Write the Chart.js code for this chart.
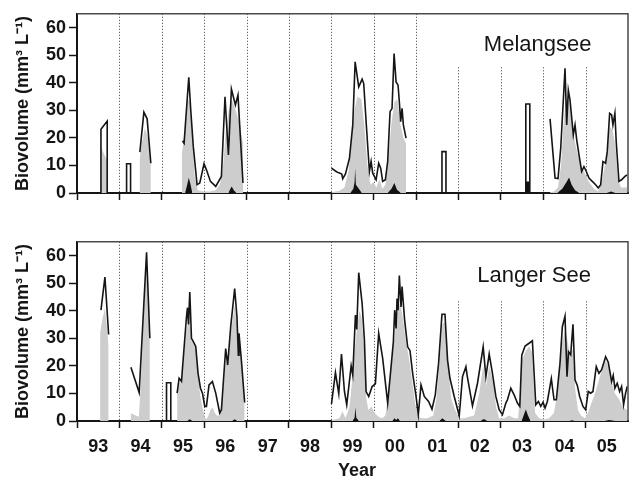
<!DOCTYPE html>
<html><head><meta charset="utf-8">
<script src="https://cdn.jsdelivr.net/npm/chart.js@4.4.0/dist/chart.umd.min.js"></script>
<style>
html,body{margin:0;padding:0;background:#fff;}
#wrap{position:relative;width:629px;height:478px;overflow:hidden;}
.p{position:absolute;left:0;width:629px;}
#p1{top:0;height:215px;}
#p2{top:228px;height:250px;}
</style></head><body>
<div id="wrap"><div class="p" id="p1"><canvas id="c1"></canvas></div><div class="p" id="p2"><canvas id="c2"></canvas></div></div>
<script>
// ---------- DATA (decimal year, biovolume mm3/L); null = sampling gap ----------
const yearLabels = ['93','94','95','96','97','98','99','00','01','02','03','04','05'];
const yearStarts = [1993,1994,1995,1996,1997,1998,1999,2000,2001,2002,2003,2004,2005];
const yTickValues = [0,10,20,30,40,50,60];

const melTotal = [
 [1993.565,0],[1993.565,23.1],[1993.713,26.1],[1993.713,0],null,
 [1994.170,0],[1994.170,10.6],[1994.264,10.6],[1994.264,0],null,
 [1994.483,14.8],[1994.578,29.3],[1994.655,26.9],[1994.742,10.8],null,
 [1995.489,18.9],[1995.526,18.0],[1995.637,42.0],[1995.684,30],[1995.743,17],[1995.833,3.0],[1995.896,3.6],[1995.997,10.6],[1996.054,8.4],[1996.148,4.2],[1996.273,2.4],[1996.407,6.0],[1996.492,34.9],[1996.572,13.8],[1996.643,37.7],[1996.737,31.9],[1996.798,35.5],[1996.916,3.6],null,
 [1999.004,9.0],[1999.115,7.8],[1999.176,7.3],[1999.247,6.9],[1999.270,5.2],[1999.334,6.9],[1999.428,12.6],[1999.506,24.7],[1999.562,47.6],[1999.647,38.5],[1999.727,41.3],[1999.765,39.7],[1999.821,25.9],[1999.899,7.8],[1999.939,11.4],[1999.977,7.2],[2000.057,4.8],[2000.118,10.8],[2000.165,9.0],[2000.212,4.2],[2000.276,4.8],[2000.330,11.4],[2000.386,29.5],[2000.433,30.7],[2000.481,50.6],[2000.528,40.3],[2000.575,39.1],[2000.605,33.1],[2000.636,25.9],[2000.669,30.7],[2000.700,24.7],[2000.763,19.9],null,
 [2001.611,0],[2001.611,15.0],[2001.705,15.0],[2001.705,0],null,
 [2003.589,0],[2003.589,32.3],[2003.683,32.3],[2003.683,0],null,
 [2004.161,26.9],[2004.279,5.4],[2004.349,5.2],[2004.413,16.3],[2004.514,45.2],[2004.554,24.7],[2004.592,37.3],[2004.632,33.7],[2004.710,21.1],[2004.750,24.7],[2004.790,19.3],[2004.844,13.8],[2004.907,7.8],[2004.961,9.6],[2005.016,7.8],[2005.079,5.4],[2005.157,4.2],[2005.237,3.0],[2005.298,1.8],[2005.355,3.0],[2005.409,11.4],[2005.472,10.8],[2005.510,15.0],[2005.567,28.9],[2005.614,28.3],[2005.644,24.7],[2005.691,28.9],[2005.722,18.6],[2005.786,4.2],[2005.849,4.8],[2005.927,6.0],[2005.981,6.6]
];
const melGray = [
 [1993.565,17],[1993.64,14],[1993.713,12],null,
 [1994.476,12],[1994.53,18],[1994.601,23.5],[1994.672,20],[1994.742,10],null,
 [1995.472,14],[1995.543,22],[1995.614,34],[1995.661,33],[1995.72,20],[1995.778,6],[1995.849,1],[1995.967,0.5],[1996.132,0.5],[1996.273,1],[1996.367,3],[1996.438,8],[1996.508,22],[1996.579,30],[1996.650,34],[1996.744,30],[1996.838,25],[1996.916,18],null,
 [1999.004,0.3],[1999.193,0.8],[1999.310,2],[1999.405,8],[1999.475,18],[1999.546,30],[1999.616,35],[1999.711,34],[1999.781,24],[1999.852,10],[1999.922,3],[1999.993,4],[2000.064,2],[2000.134,5],[2000.205,1.5],[2000.276,3],[2000.346,12],[2000.417,25],[2000.488,33],[2000.558,34],[2000.629,25],[2000.700,20],[2000.763,18],null,
 [2004.161,0.3],[2004.255,0.5],[2004.349,2],[2004.420,10],[2004.479,25],[2004.538,34],[2004.597,34],[2004.655,28],[2004.726,20],[2004.797,15],[2004.891,10],[2004.985,7],[2005.079,4],[2005.197,1.5],[2005.291,0.5],[2005.362,3],[2005.432,8],[2005.503,14],[2005.567,24],[2005.633,23],[2005.703,17],[2005.762,5],[2005.833,2],[2005.927,2],[2005.981,2]
];
const melBlack = [
 [1995.55,0],[1995.60,3],[1995.637,5.5],[1995.68,3],[1995.72,0],null,
 [1996.572,0],[1996.62,1.5],[1996.650,2.4],[1996.70,1],[1996.760,0],null,
 [1999.45,0],[1999.52,1.5],[1999.55,4],[1999.562,9],[1999.58,3],[1999.65,1.5],[1999.72,0],null,
 [2000.33,0],[2000.42,1.5],[2000.487,3.6],[2000.55,1.2],[2000.64,0],null,
 [2003.589,4.2],[2003.683,4.2],null,
 [2004.33,0],[2004.45,1.5],[2004.55,4],[2004.61,5.6],[2004.67,3],[2004.75,1],[2004.85,0],null,
 [2005.5,0],[2005.6,0.5],[2005.7,0]
];

const lanTotal = [
 [1993.565,40.2],[1993.659,52.2],[1993.746,31.4],null,
 [1994.272,19.5],[1994.467,10.3],[1994.641,61.2],[1994.719,30.0],null,
 [1995.112,0],[1995.112,13.9],[1995.213,13.9],[1995.213,0],null,
 [1995.362,10.1],[1995.409,15.5],[1995.465,14.4],[1995.583,37.8],[1995.607,41.1],[1995.630,35],[1995.661,46.8],[1995.701,30],[1995.738,29],[1995.802,27],[1995.856,17.3],[1995.913,11.9],[1995.960,10.1],[1996.014,5.3],[1996.054,5.3],[1996.115,13.1],[1996.195,14.3],[1996.273,10.1],[1996.367,2.9],[1996.407,4.1],[1996.508,26.3],[1996.555,20.3],[1996.626,34.2],[1996.720,48],[1996.774,37.8],[1996.807,23.9],[1996.822,31.8],[1996.878,22.1],[1996.956,6.7],null,
 [1999.004,6.2],[1999.098,17.5],[1999.176,9.9],[1999.240,24.3],[1999.310,10.7],[1999.364,5.9],[1999.468,20],[1999.506,16.7],[1999.569,38.4],[1999.600,33.2],[1999.647,53.8],[1999.727,42.6],[1999.781,29.4],[1999.821,10.7],[1999.883,8.9],[1999.963,12.5],[2000.040,13.5],[2000.118,31.8],[2000.212,22.7],[2000.330,6.5],[2000.410,19.7],[2000.464,28.7],[2000.495,40.2],[2000.528,33.6],[2000.551,44.4],[2000.575,40.2],[2000.605,52.8],[2000.645,41.4],[2000.669,48.8],[2000.730,36.6],[2000.801,26.9],[2000.857,25.5],[2000.919,17.3],[2000.999,8.9],[2001.053,2.3],[2001.116,13.1],[2001.194,8.9],[2001.295,7.1],[2001.375,4.3],[2001.453,9.5],[2001.531,20.9],[2001.611,38.7],[2001.682,38.7],[2001.743,22.1],[2001.799,15.5],[2001.900,8.9],[2002.018,1.9],[2002.096,16.1],[2002.176,19.7],[2002.206,16.4],[2002.331,5.5],[2002.449,13.7],[2002.583,26.9],[2002.647,16.1],[2002.725,24.3],[2002.802,17.3],[2002.882,8.9],[2002.960,4.1],[2003.038,2.3],[2003.118,6.5],[2003.156,7.7],[2003.235,11.9],[2003.313,9.5],[2003.391,6.5],[2003.447,5.3],[2003.494,23.9],[2003.572,27.2],[2003.666,28.2],[2003.744,29.1],[2003.824,5.9],[2003.885,7.1],[2003.942,5.3],[2003.996,6.8],[2004.043,4.7],[2004.097,7.1],[2004.191,15.4],[2004.255,7.7],[2004.309,7.7],[2004.396,21],[2004.451,34.2],[2004.514,38],[2004.561,16.1],[2004.597,25.1],[2004.648,24],[2004.702,35.1],[2004.750,14.9],[2004.804,12.9],[2004.860,8.9],[2004.938,5.3],[2005.001,4.1],[2005.063,10.7],[2005.119,10.1],[2005.173,10.7],[2005.251,19.7],[2005.315,17.3],[2005.378,18.6],[2005.472,23.3],[2005.534,21.3],[2005.614,14.3],[2005.651,16.5],[2005.691,11.9],[2005.746,13.7],[2005.802,10.7],[2005.849,12.5],[2005.896,5.9],[2005.943,10.1],[2005.981,12.5]
];
const lanGray = [
 [1993.545,32],[1993.60,37],[1993.659,41],[1993.70,35],[1993.746,27],null,
 [1994.265,2.8],[1994.36,2.2],[1994.46,1.5],[1994.50,12],[1994.55,30],[1994.60,48],[1994.641,57],[1994.68,44],[1994.719,29],null,
 [1995.362,10],[1995.42,14],[1995.47,14],[1995.53,25],[1995.58,33],[1995.63,36],[1995.661,38],[1995.70,29],[1995.74,28],[1995.80,26],[1995.856,16],[1995.91,9],[1995.96,5],[1996.01,1.5],[1996.05,0.5],[1996.10,2],[1996.15,4],[1996.20,5],[1996.25,3],[1996.30,2],[1996.37,2],[1996.43,8],[1996.51,22],[1996.56,20],[1996.63,32],[1996.72,42],[1996.77,36],[1996.82,28],[1996.88,21],[1996.956,6],null,
 [1999.004,0.3],[1999.193,1],[1999.263,3.5],[1999.334,1],[1999.428,5],[1999.475,12],[1999.546,25],[1999.616,35],[1999.664,40],[1999.711,38],[1999.781,25],[1999.828,8],[1999.875,4],[1999.946,5.3],[2000.017,3],[2000.111,1.5],[2000.205,1],[2000.276,2],[2000.346,10],[2000.417,20],[2000.488,30],[2000.558,40],[2000.629,43],[2000.700,36],[2000.770,28],[2000.841,22],[2000.911,14],[2000.982,6],[2001.053,2],[2001.123,1],[2001.265,1],[2001.406,2],[2001.477,8],[2001.547,20],[2001.618,35],[2001.689,36],[2001.759,20],[2001.830,8],[2001.924,4],[2002.018,1],[2002.136,1],[2002.254,1.5],[2002.371,2],[2002.489,10],[2002.583,20],[2002.654,13],[2002.725,20],[2002.819,14],[2002.889,5],[2002.960,1],[2003.078,1],[2003.195,2],[2003.313,1],[2003.407,1],[2003.454,10],[2003.501,22],[2003.572,25],[2003.666,27],[2003.737,25],[2003.808,3],[2003.902,1],[2004.020,0.5],[2004.137,1],[2004.255,3],[2004.326,10],[2004.396,20],[2004.443,28],[2004.514,33],[2004.561,30],[2004.632,24],[2004.702,26],[2004.750,12],[2004.820,4],[2004.891,2],[2004.985,1],[2005.055,3],[2005.126,6],[2005.220,10],[2005.315,15],[2005.409,20],[2005.479,22],[2005.550,19],[2005.621,14],[2005.691,10],[2005.786,8],[2005.880,5],[2005.981,4]
];
const lanBlack = [
 [1995.60,0],[1995.66,0.6],[1995.72,0],null,
 [1996.66,0],[1996.72,0.6],[1996.78,0],null,
 [1999.50,0],[1999.55,1.2],[1999.569,5],[1999.59,1.2],[1999.65,0],null,
 [2000.44,0],[2000.49,1],[2000.53,0.4],[2000.57,1],[2000.62,0],null,
 [2001.55,0],[2001.62,1],[2001.70,0],null,
 [2002.52,0],[2002.60,0.7],[2002.68,0],null,
 [2003.49,0],[2003.55,2.5],[2003.59,4.2],[2003.64,2],[2003.70,0],null,
 [2004.62,0],[2004.68,0.3],[2004.74,0],null,
 [2005.45,0],[2005.55,0.4],[2005.70,0]
];
// dotted year separators: top end (in axis units) per panel
const guideYears = [1994,1995,1996,1997,1998,1999,2000,2001,2002,2003,2004,2005];
const melGuideTop = [65,65,65,65,65,65,65,65,45.6,45.6,45.6,45.6];
const lanGuideTop = [65,65,65,65,65,65,65,65,43.4,43.4,43.4,43.4];

// ---------- RENDERING ----------
const FAM = "'Liberation Sans', Arial, Helvetica, sans-serif";
Chart.defaults.font.family = FAM;
const INK = '#151515';

function toPts(arr){
  let prev = null;
  return arr.map(p => { if (p){ prev = p[0]; return {x:p[0], y:p[1]}; } return {x:prev, y:null}; });
}
const halfTicks = yearStarts.map(v => v + 0.5);
const xTickVals = yearStarts.concat(halfTicks).sort((a,b)=>a-b);

const decor = {
  id:'decor',
  beforeDatasetsDraw(chart, args, o){
    const {ctx, chartArea:a, scales:{x, y}} = chart;
    ctx.save();
    ctx.strokeStyle = '#3a3a3a'; ctx.lineWidth = 1; ctx.setLineDash([1,2]);
    guideYears.forEach((yr,i)=>{
      const px = Math.round(x.getPixelForValue(yr)) + 0.5;
      ctx.beginPath(); ctx.moveTo(px, y.getPixelForValue(o.guideTop[i])); ctx.lineTo(px, a.bottom); ctx.stroke();
    });
    ctx.restore();
  },
  afterDraw(chart, args, o){
    const {ctx, chartArea:a} = chart;
    ctx.save();
    ctx.strokeStyle = '#4a4a4a'; ctx.lineWidth = 1.5;
    ctx.beginPath(); ctx.moveTo(a.left, a.top); ctx.lineTo(a.right, a.top); ctx.lineTo(a.right, a.bottom); ctx.stroke();
    ctx.fillStyle = INK; ctx.textAlign = 'right'; ctx.textBaseline = 'alphabetic';
    ctx.font = '22px ' + FAM;
    ctx.fillText(o.label, a.right - o.labelDx, a.top + o.labelDy);
    if (o.xTitle){
      ctx.font = 'bold 18px ' + FAM; ctx.textAlign = 'center';
      ctx.fillText(o.xTitle, o.xTitleX, chart.height - 2);
    }
    ctx.restore();
  }
};

function makeChart(id, total, gray, black, opts){
  const canvasH = document.getElementById(id).parentNode.clientHeight;
  return new Chart(document.getElementById(id), {
    type:'line',
    data:{ datasets:[
      {data:toPts(total), borderColor:INK, borderWidth:1.6, pointRadius:0, fill:false, spanGaps:false, tension:0},
      {data:toPts(black), borderWidth:0, borderColor:'rgba(0,0,0,0)', backgroundColor:'#111', pointRadius:0, fill:'origin', spanGaps:false, tension:0},
      {data:toPts(gray), borderWidth:0, borderColor:'rgba(0,0,0,0)', backgroundColor:'#cdcdcd', pointRadius:0, fill:'origin', spanGaps:false, tension:0}
    ]},
    options:{
      responsive:true, maintainAspectRatio:false, animation:false, devicePixelRatio:1,
      layout:{padding:{top:13, right:1, left:0, bottom:0}},
      plugins:{legend:{display:false}, tooltip:{enabled:false},
        decor:{label:opts.label, labelDx:opts.labelDx, labelDy:opts.labelDy, guideTop:opts.guideTop, xTitle:opts.xTitle, xTitleX:357}},
      scales:{
        x:{type:'linear', min:1993, max:2006, z:1,
          afterBuildTicks:s=>{ s.ticks = xTickVals.map(v=>({value:v})); },
          afterFit:s=>{ s.height = canvasH - 13 - 180; },
          ticks:{display:opts.showLabels, autoSkip:false, maxRotation:0, color:INK, padding:8,
            font:{size:18, weight:'bold'},
            callback:v=>{ const i = halfTicks.indexOf(v); return i >= 0 ? yearLabels[i] : ''; }},
          grid:{drawOnChartArea:false, tickLength:7, tickWidth:1.5,
            tickColor:c=> (c.tick && Number.isInteger(c.tick.value)) ? INK : 'rgba(0,0,0,0)'},
          border:{color:INK, width:2}
        },
        y:{min:0, max:65, z:1,
          afterBuildTicks:s=>{ s.ticks = yTickValues.map(v=>({value:v})); },
          afterFit:s=>{ s.width = 77; },
          ticks:{color:INK, padding:3, font:{size:18, weight:'bold'}},
          grid:{drawOnChartArea:false, tickLength:8, tickWidth:1.5, tickColor:INK},
          border:{color:INK, width:2},
          title:{display:true, text:'Biovolume (mm³ L⁻¹)', color:INK, font:{size:18, weight:'bold'}, padding:{top:12, bottom:0}}
        }
      }
    },
    plugins:[decor]
  });
}

makeChart('c1', melTotal, melGray, melBlack, {label:'Melangsee', labelDx:36.5, labelDy:37, guideTop:melGuideTop, showLabels:false, xTitle:null});
makeChart('c2', lanTotal, lanGray, lanBlack, {label:'Langer See', labelDx:37, labelDy:39.7, guideTop:lanGuideTop, showLabels:true, xTitle:'Year'});
</script>
</body></html>
